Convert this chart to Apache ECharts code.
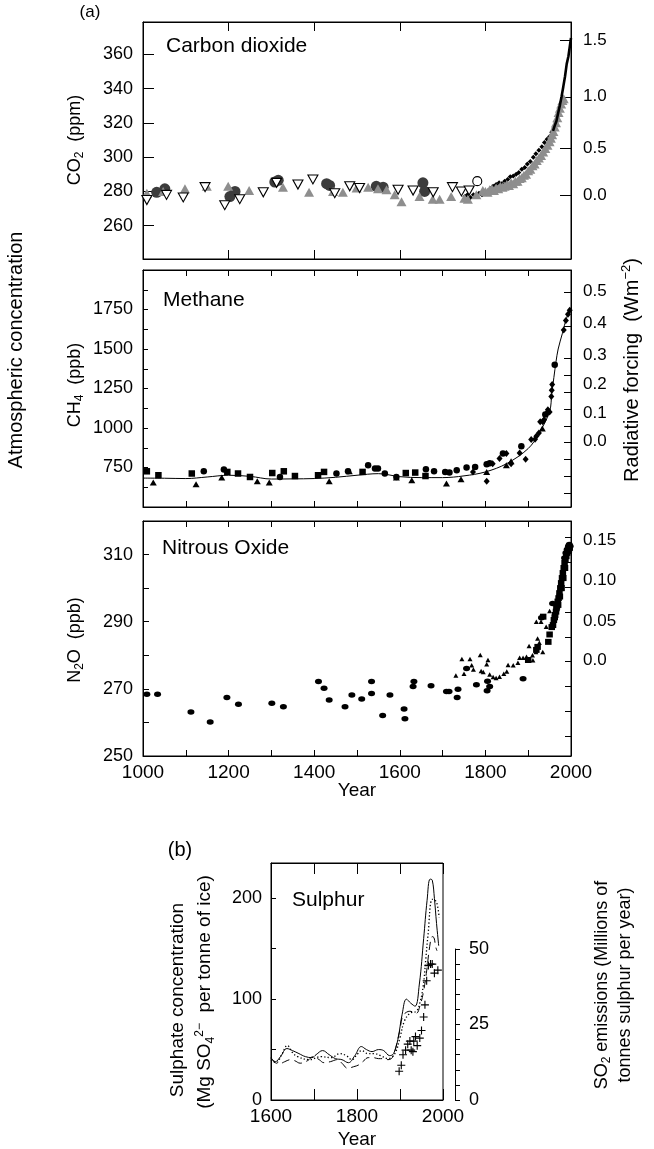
<!DOCTYPE html>
<html><head><meta charset="utf-8">
<script src="https://cdn.jsdelivr.net/npm/echarts@6/dist/echarts.min.js"></script>
<style>html,body{margin:0;padding:0;background:#fff}#c{width:654px;height:1149px}</style>
</head><body><div id="c"></div>
<script>
const FONT = "'Liberation Sans', Arial, Helvetica, sans-serif";

// ---------- Panel (a) : Carbon dioxide (ppm) ----------
const co2DarkCircles = [[1032,279.5],[1051,281.5],[1203,277],[1215,280],[1308,285.5],[1316,286.5],[1429,284.5],[1436,283.5],[1545,283],[1561,282.5],[1654,285],[1658,280]];
const co2GreyTriangles = [[1009,279],[1047,280],[1098,281.5],[1149,283],[1199,283],[1248,280.5],[1327,282.5],[1388,279.5],[1444,280],[1467,279.5],[1499,282],[1526,282.5],[1549,281.5],[1569,281],[1588,278],[1604,274],[1646,277],[1677,275.5],[1693,275.5],[1720,277],[1751,276],[1759,275.5],[1779,278],[1794,280.5],
 [1800,280],[1805,279.5],[1810,281],[1815,281.5],[1820,280.5],[1825,282],[1830,281.5],[1835,283],[1840,282.5],[1845,283],[1850,284],[1855,283.5],[1860,285],[1865,284.5],[1870,286],[1875,286],[1880,287.5],[1885,288],[1890,289.5],[1895,290],[1900,292],[1905,293],[1910,295],[1915,296],[1920,298],[1925,299.5],[1930,301],[1935,303],[1940,305],[1945,307],[1950,309],[1953,311],[1956,313],[1959,315],[1962,317.5],[1965,320],[1968,323],[1971,326],[1974,328.5],[1977,331],[1980,333],[1983,334]];
const co2BlackDiamonds = [[1752,277],[1758,278],[1765,276.5],[1772,278],[1778,277],[1785,279],[1792,278],[1798,280],[1805,279],[1812,281.5],[1818,283],[1825,284],[1832,285],[1838,284.5],[1845,286],[1852,287],[1858,288.5],[1865,289],[1872,290],[1878,291],[1885,293],[1892,294],[1898,296],[1905,297.5],[1912,300],[1918,302],[1925,304],[1932,306],[1938,308.5],[1944,310.5],[1950,312],[1955,314.5],[1960,317],[1965,320],[1970,324],[1975,329],[1978,331]];
const co2OpenTriangles = [[1009,275],[1055,278],[1094,276.5],[1145,282.5],[1191,272],[1226,275.5],[1281,279.5],[1312,285],[1362,284],[1397,287],[1448,279],[1483,283],[1506,282],[1596,281],[1631,280.5],[1678,279.5],[1723,282.5],[1744,280],[1762,280.5]];
const co2OpenCircles = [[1781,286]];
const co2Atmos = [[1958,315.3],[1962,318.4],[1966,321.1],[1970,325.7],[1974,330.2],[1978,335.4],[1982,341.1],[1986,347],[1990,354.4],[1994,358.8],[2000,369.5]];
const co2Ticks = [260,280,300,320,340,360];
const co2ForcingPos = [278,305.2,335.2,368];
const co2ForcingLabels = ['0.0','0.5','1.0','1.5'];

// ---------- Methane (ppb) ----------
const ch4Squares = [[1009,726],[1036,701],[1114,712],[1197,722],[1222,712],[1250,690],[1302,715],[1329,726],[1355,696],[1409,701],[1423,722],[1513,722],[1614,715],[1636,718],[1660,696]];
const ch4Circles = [[1142,726],[1189,737],[1320,690],[1452,712],[1479,726],[1526,764],[1542,743],[1549,743],[1565,712],[1592,690],[1661,739],[1680,726],[1706,722],[1716,718],[1733,733],[1756,750],[1776,753],[1803,770],[1810,777],[1841,838],[1884,885],[1940,1085],[1962,1400]];
const ch4Triangles = [[1024,655],[1124,644],[1184,686],[1267,663],[1295,655],[1435,663],[1482,726],[1592,686],[1628,669],[1709,648],[1743,676],[1803,722],[1849,764],[1860,790],[1933,997]];
const ch4Diamonds = [[1771,722],[1803,663],[1817,774],[1833,807],[1849,838],[1860,774],[1880,842],[1894,802],[1907,927],[1916,929],[1919,948],[1925,968],[1928,1039],[1934,1039],[1937,1052],[1942,1090],[1946,1115],[1950,1102],[1954,1200],[1955,1239],[1956,1276],[1983,1620],[1988,1680],[1993,1720],[1997,1745]];
const ch4Fit = [[1000,683],[1050,682],[1100,680],[1150,690],[1200,701],[1250,694],[1300,677],[1350,678],[1400,680],[1450,688],[1500,701],[1550,711],[1600,692],[1650,686],[1700,686],[1750,697],[1800,722],[1850,775],[1900,870],[1925,965],[1950,1105],[1955,1215],[1960,1320],[1965,1420],[1970,1500],[1980,1600],[1990,1700],[2000,1760]];
const ch4TickValues = [750,1000,1250,1500,1750];
const ch4ForcingLabelPos = [1867,1664,1461,1276,1093,916];
const ch4ForcingLabels = ['0.5','0.4','0.3','0.2','0.1','0.0'];
const ch4ForcingTickPos = [1862,1647,1440,1335,1229,1119,1013,908,800,695,585];

// ---------- Nitrous oxide (ppb) ----------
const n2oCircles = [[1009,268.4],[1034,268.4],[1112,263.1],[1157,260.1],[1196,267.4],[1223,265.4],[1301,265.7],[1328,264.7],[1410,272.2],[1423,270.2],[1435,266.7],[1472,264.7],[1488,268.2],[1511,267],[1534,272.2],[1534,268.6],[1560,262.1],[1577,268.2],[1610,264],[1612,261.1],[1631,270.7],[1633,272.2],[1673,270.9],[1709,269.2],[1715,269.2],[1734,267.4],[1736,269.9],[1756,276.1],[1779,271.2],[1804,269.4],[1805,272.3],[1810,270.7],[1888,273],[1931,291.2],[1957,295.4],[1985,309],[1988,310.5],[1991,311.5],[1994,312.5],[1996,313],[1998,312.5]];
const n2oTriangles = [[1731,274],[1745,278.9],[1750,274.5],[1764,278.9],[1768,277],[1772,275.8],[1788,280.1],[1790,275.3],[1795,275],[1803,277.3],[1806,278.6],[1810,274.3],[1818,273.5],[1825,273.2],[1833,273.6],[1843,274.5],[1850,275.2],[1853,277.1],[1865,277],[1876,277.8],[1880,279.3],[1888,279.3],[1896,279.6],[1902,282.8],[1910,280],[1911,278.5],[1918,281],[1922,285],[1926,283.7],[1934,281],[1919,290],[1930,290],[1942,288.5],[1950,293.2]];
const n2oSquares = [[1900,278.6],[1919,281.6],[1922,282.5],[1935,291.5],[1947,284],[1950,286.2],[1955,288.4],[1958,289],[1960,290.5],[1962,291.3],[1963,292],[1965,293],[1966,294],[1967,294.5],[1969,296],[1970,295],[1971,297],[1973,298.5],[1974,297.5],[1975,300],[1977,301.5],[1978,300],[1979,303],[1981,304.5],[1982,303],[1983,306],[1985,307.5],[1986,306],[1987,308.5],[1989,309.5],[1991,310.5],[1993,311],[1995,311.5],[1997,312]];
const n2oTickValues = [250,270,290,310];
const n2oForcingLabelPos = [314.2,302.4,290.2,278.6];
const n2oForcingLabels = ['0.15','0.10','0.05','0.0'];
const n2oForcingTickPos = [315.2,307.8,300.4,292.9,285.5,278.1,270.7,263.2,255.8];

// ---------- Panel (b) : Sulphur ----------
const sulphateSolid = [[1600,42],[1610,38],[1622,43],[1637,51],[1650,49],[1665,46],[1680,43],[1695,42],[1705,45],[1720,49],[1735,45],[1750,41],[1765,40],[1780,37],[1795,44],[1810,53],[1822,50],[1835,48],[1850,50],[1862,49],[1876,44],[1885,46],[1895,60],[1905,85],[1915,100],[1925,96],[1935,93],[1945,115],[1955,160],[1963,198],[1970,219],[1975,218],[1980,200],[1985,175],[1990,153]];
const sulphateDotted = [[1600,40],[1612,37],[1625,45],[1638,54],[1650,47],[1662,43],[1690,40],[1716,43],[1740,42],[1760,46],[1775,44],[1788,40],[1800,45],[1811,49],[1825,46],[1840,46],[1855,44],[1872,41],[1888,46],[1900,62],[1910,78],[1923,86],[1938,88],[1946,96],[1954,113],[1960,140],[1965,163],[1975,199],[1982,198],[1987,193],[1991,181]];
const sulphateDashed = [[1600,41],[1610,37],[1620,36],[1632,38],[1645,40],[1655,39],[1668,36.5],[1685,39],[1698,43],[1712,40],[1723,37],[1738,38],[1754,40],[1766,36],[1778,31.5],[1792,33],[1805,35],[1816,39],[1826,42],[1838,42],[1850,41],[1862,41],[1872,40],[1882,42],[1890,52],[1900,70],[1906,83],[1915,87],[1923,88],[1938,86],[1946,93],[1954,106],[1962,128],[1969,152],[1975,162],[1979,161],[1983,152],[1986,148]];
const so2Emissions = [[1898,9.5],[1903,11.5],[1907,15],[1913,16.5],[1918,18.5],[1923,19.5],[1926,16.5],[1930,16],[1932,19.5],[1936,21],[1940,18],[1946,20.5],[1950,23],[1955,27.5],[1958,31.5],[1962,39.5],[1966,44.5],[1971,45],[1975,45],[1980,42],[1988,43]];
const sulphateTickValues = [0,100,200];
const so2TickValues = [0,25,50];

// ---------- helpers ----------
function lookup(pos, labels) {
  return function (v) {
    for (let i = 0; i < pos.length; i++) if (Math.abs(pos[i] - v) < 1e-6) return labels[i];
    return '';
  };
}
const plain = function (v) { return String(v); };
const black = '#000';
function xAx(grid, pos, min, max, interval, tickLen, labelVals) {
  return {
    type: 'value', gridIndex: grid, position: pos, min: min, max: max, interval: interval,
    axisLine: {show: true, onZero: false, lineStyle: {color: black, width: 1}},
    axisTick: {show: true, inside: true, length: tickLen, lineStyle: {color: black, width: 1}},
    axisLabel: labelVals ? {show: true, customValues: labelVals, formatter: plain, color: black, fontSize: 19, fontFamily: FONT, margin: 7} : {show: false},
    splitLine: {show: false}
  };
}
function yAx(grid, pos, min, max, tickOpt, tickLen, labelVals, formatter, fontSize, margin) {
  const ax = {
    type: 'value', gridIndex: grid, position: pos, min: min, max: max,
    axisLine: {show: true, onZero: false, lineStyle: {color: black, width: 1}},
    axisTick: Object.assign({show: true, inside: true, length: tickLen, lineStyle: {color: black, width: 1}}, tickOpt),
    axisLabel: {show: true, customValues: labelVals, formatter: formatter || plain, color: black, fontSize: fontSize, fontFamily: FONT, margin: margin},
    splitLine: {show: false}
  };
  if (tickOpt.interval) ax.interval = tickOpt.interval;
  return ax;
}
function scat(xi, yi, data, symbol, size, color, border, bw, z) {
  return {
    type: 'scatter', xAxisIndex: xi, yAxisIndex: yi, data: data, symbol: symbol, symbolSize: size,
    itemStyle: {color: color, borderColor: border || color, borderWidth: bw || 0, opacity: 1},
    emphasis: {disabled: true}, z: z || 2, silent: true
  };
}
function lineS(xi, yi, data, width, type, smooth) {
  return {
    type: 'line', xAxisIndex: xi, yAxisIndex: yi, data: data, showSymbol: false, symbol: 'none',
    smooth: smooth, lineStyle: {color: black, width: width, type: type}, z: 4, silent: true
  };
}
function txt(x, y, text, size, rot, align, rich) {
  const t = {
    type: 'text', x: x, y: y, rotation: rot || 0, silent: true,
    style: {text: text, fill: black, fontSize: size, fontFamily: FONT, align: align || 'center', verticalAlign: 'middle'}
  };
  if (rich) t.style.rich = rich;
  return t;
}
function richSet(size) {
  return {
    a: {fontSize: size, fontFamily: FONT, lineHeight: size + 4, fill: black},
    s: {fontSize: Math.round(size * 0.65), fontFamily: FONT, lineHeight: Math.round(size * 0.65), verticalAlign: 'bottom', fill: black},
    p: {fontSize: Math.round(size * 0.65), fontFamily: FONT, lineHeight: Math.round(size * 0.65), verticalAlign: 'top', fill: black}
  };
}

const INV_TRI = 'path://M0,0L10,0L5,8.7Z';
const PLUS = 'path://M4.3,0H5.7V4.3H10V5.7H5.7V10H4.3V5.7H0V4.3H4.3Z';

const gridBox = {show: true, borderColor: black, borderWidth: 1, backgroundColor: 'transparent', containLabel: false};
const option = {
  animation: false,
  backgroundColor: '#fff',
  grid: [
    Object.assign({left: 143, right: 83, top: 22, height: 237}, gridBox),
    Object.assign({left: 143, right: 83, top: 270, height: 237}, gridBox),
    Object.assign({left: 143, right: 83, top: 521, height: 235}, gridBox),
    Object.assign({left: 271, right: 211, top: 863, height: 237}, gridBox),
    {left: 271, right: 211, top: 949, height: 151, show: false}
  ],
  xAxis: [
    xAx(0, 'bottom', 1000, 2000, 200, 9, null),
    xAx(0, 'top', 1000, 2000, 200, 9, null),
    xAx(1, 'bottom', 1000, 2000, 100, 6, null),
    xAx(1, 'top', 1000, 2000, 100, 6, null),
    xAx(2, 'bottom', 1000, 2000, 100, 6, [1000,1200,1400,1600,1800,2000]),
    xAx(2, 'top', 1000, 2000, 100, 6, null),
    xAx(3, 'bottom', 1600, 2000, 100, 11, [1600,1800,2000]),
    xAx(3, 'top', 1600, 2000, 100, 11, null),
    {type: 'value', gridIndex: 4, min: 1600, max: 2000, show: false}
  ],
  yAxis: [
    yAx(0, 'left', 240.6, 378.8, {customValues: co2Ticks}, 11, co2Ticks, null, 18, 10),
    yAx(0, 'right', 240.6, 378.8, {customValues: co2ForcingPos}, 11, co2ForcingPos, lookup(co2ForcingPos, co2ForcingLabels), 17, 12),
    yAx(1, 'left', 500, 2000, {interval: 125}, 5, ch4TickValues, null, 18, 10),
    yAx(1, 'right', 500, 2000, {customValues: ch4ForcingTickPos}, 7, ch4ForcingLabelPos, lookup(ch4ForcingLabelPos, ch4ForcingLabels), 17, 12),
    yAx(2, 'left', 250, 320, {interval: 10}, 6, n2oTickValues, null, 18, 10),
    yAx(2, 'right', 250, 320, {customValues: n2oForcingTickPos}, 6, n2oForcingLabelPos, lookup(n2oForcingLabelPos, n2oForcingLabels), 17, 12),
    yAx(3, 'left', 0, 235, {customValues: [0,50,100,150,200]}, 5, sulphateTickValues, null, 18, 9),
    Object.assign(yAx(4, 'right', 0, 50, {interval: 5, inside: false}, 5, so2TickValues, null, 18, 14), {offset: 12})
  ],
  series: [
    scat(0, 0, co2DarkCircles, 'circle', 11, '#3c3c3c', null, 0, 2),
    scat(0, 0, co2BlackDiamonds, 'diamond', [5, 5], '#000', null, 0, 3),
    scat(0, 0, co2GreyTriangles, 'triangle', [10, 9], '#8e8e8e', null, 0, 4),
    scat(0, 0, co2OpenTriangles, INV_TRI, [10, 9], '#fff', '#000', 1.1, 5),
    scat(0, 0, co2OpenCircles, 'circle', 9, '#fff', '#000', 1.1, 5),
    Object.assign(lineS(0, 0, co2Atmos, 2.6, 'solid', false), {z: 6}),

    lineS(2, 2, ch4Fit, 1, 'solid', 0.35),
    scat(2, 2, ch4Squares, 'rect', 6.5, '#000'),
    scat(2, 2, ch4Circles, 'circle', 6.5, '#000'),
    scat(2, 2, ch4Triangles, 'triangle', [7, 6], '#000'),
    scat(2, 2, ch4Diamonds, 'diamond', [6, 7], '#000'),

    scat(4, 4, n2oCircles, 'circle', [7, 5.5], '#000'),
    scat(4, 4, n2oTriangles, 'triangle', [5, 4.5], '#000'),
    scat(4, 4, n2oSquares, 'rect', [6.5, 6], '#000'),

    lineS(6, 6, sulphateSolid, 1, 'solid', 0.4),
    lineS(6, 6, sulphateDotted, 1.3, [1.3, 2.2], 0.4),
    lineS(6, 6, sulphateDashed, 1, [8, 5], 0.4),
    scat(8, 7, so2Emissions, PLUS, 8, '#000')
  ],
  graphic: {elements: [
    txt(90, 12, '(a)', 17),
    txt(166, 46, 'Carbon dioxide', 21, 0, 'left'),
    txt(163, 300, 'Methane', 21, 0, 'left'),
    txt(162, 548, 'Nitrous Oxide', 21, 0, 'left'),
    txt(292, 900, 'Sulphur', 21, 0, 'left'),
    txt(16, 350, 'Atmospheric concentration', 20, Math.PI / 2),
    txt(75, 140, '{a|CO}{s|2}{a|  (ppm)}', 18, Math.PI / 2, 'center', richSet(18)),
    txt(75, 385, '{a|CH}{s|4}{a|  (ppb)}', 18, Math.PI / 2, 'center', richSet(18)),
    txt(75, 640, '{a|N}{s|2}{a|O  (ppb)}', 18, Math.PI / 2, 'center', richSet(18)),
    txt(632, 370, '{a|Radiative forcing  (Wm}{p|−2}{a|)}', 20, Math.PI / 2, 'center', richSet(20)),
    txt(357, 791, 'Year', 19),
    txt(180, 850, '(b)', 20),
    txt(178, 1000, 'Sulphate concentration', 19, Math.PI / 2),
    txt(205, 992, '{a|(Mg SO}{s|4}{p|2−}{a|  per tonne of ice)}', 19, Math.PI / 2, 'center', richSet(19)),
    txt(602, 985, '{a|SO}{s|2}{a| emissions (Millions of}', 18, Math.PI / 2, 'center', richSet(18)),
    txt(625, 985, 'tonnes sulphur per year)', 18, Math.PI / 2),
    txt(357, 1140, 'Year', 19)
  ]}
};
const chart = echarts.init(document.getElementById('c'), null, {renderer: 'canvas'});
chart.setOption(option);
</script>
</body></html>
